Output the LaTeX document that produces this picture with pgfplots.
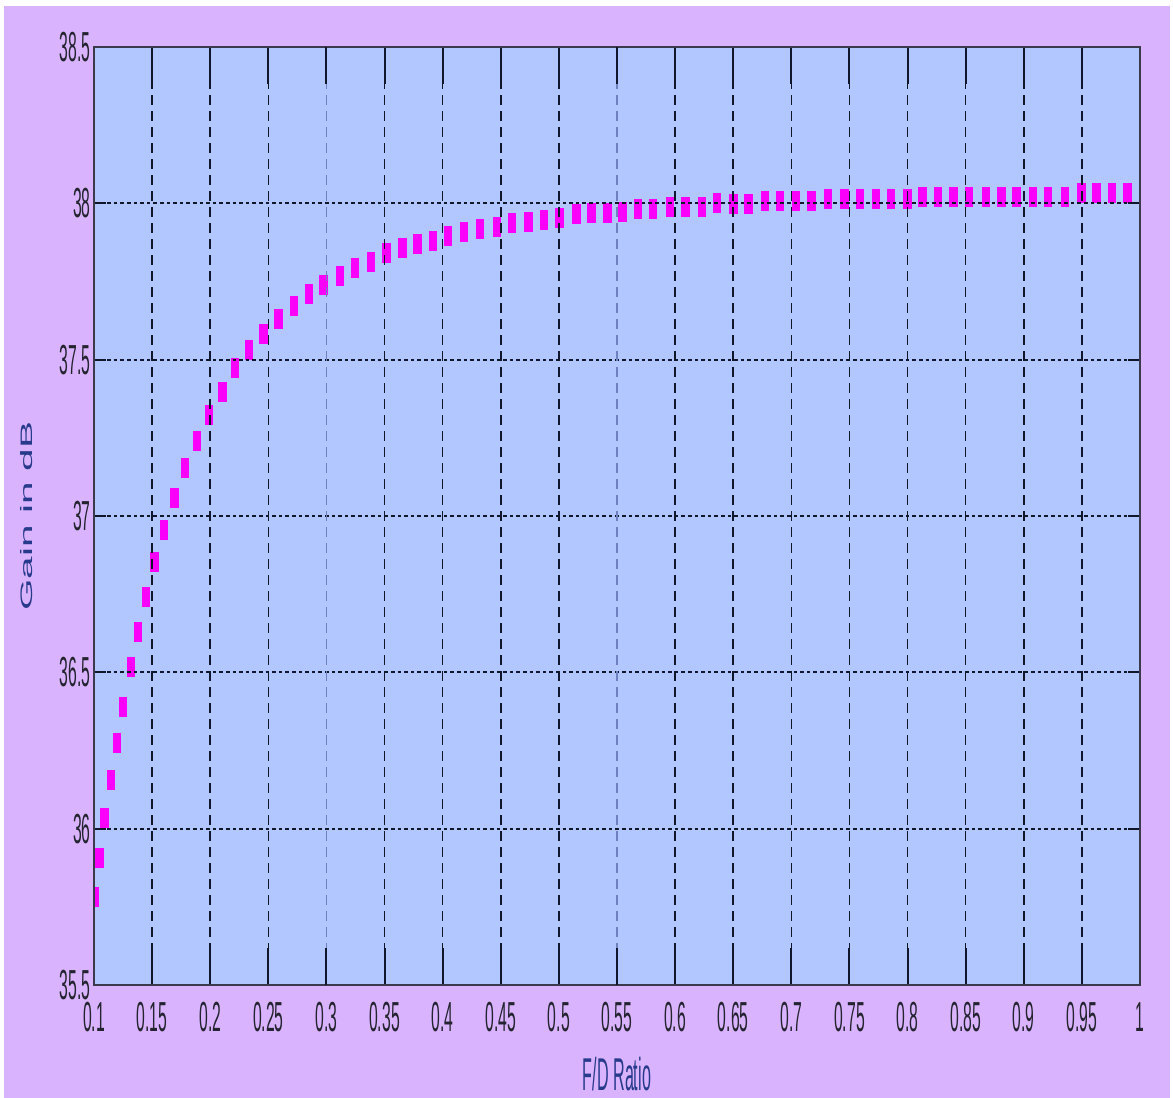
\documentclass[border=0pt]{standalone}
\usepackage{pgfplots}
\pgfplotsset{compat=1.18}
\usepackage{fontspec}
\setmainfont{Liberation Sans}
\newfontfamily\tickfont[FakeStretch=0.375]{Liberation Sans}
\newfontfamily\xlabfont[FakeStretch=0.35]{Liberation Sans}
\newfontfamily\ylabfont[FakeStretch=2.44]{Liberation Sans}

\definecolor{figbg}{RGB}{218,179,255}
\definecolor{axbg}{RGB}{178,198,255}
\definecolor{axline}{RGB}{58,58,76}
\definecolor{gridc}{RGB}{16,22,44}
\definecolor{gridfaint}{RGB}{110,128,190}
\definecolor{ticktext}{RGB}{36,36,48}
\definecolor{labtext}{RGB}{40,58,140}
\definecolor{curve}{RGB}{250,0,250}

% gain (dB) versus focal-length-to-diameter ratio
\pgfplotstableread{
fd      gain
0.1009  35.782
0.1046  35.907
0.1089  36.034
0.1146  36.156
0.1200  36.275
0.1252  36.390
0.1316  36.516
0.1381  36.630
0.1447  36.740
0.1522  36.854
0.1602  36.955
0.1691  37.057
0.1783  37.153
0.1884  37.241
0.1989  37.323
0.2104  37.398
0.2213  37.473
0.2336  37.531
0.2457  37.582
0.2589  37.629
0.2723  37.672
0.2850  37.710
0.2973  37.739
0.3117  37.768
0.3246  37.792
0.3381  37.813
0.3518  37.842
0.3653  37.856
0.3785  37.870
0.3919  37.880
0.4048  37.896
0.4186  37.907
0.4321  37.917
0.4465  37.925
0.4599  37.938
0.4737  37.939
0.4874  37.947
0.5004  37.952
0.5153  37.965
0.5282  37.968
0.5417  37.970
0.5549  37.971
0.5683  37.981
0.5812  37.981
0.5956  37.989
0.6091  37.989
0.6229  37.989
0.6358  38.000
0.6501  37.998
0.6630  37.998
0.6773  38.008
0.6903  38.008
0.7038  38.008
0.7175  38.008
0.7318  38.013
0.7456  38.013
0.7591  38.013
0.7726  38.013
0.7858  38.013
0.7998  38.013
0.8130  38.021
0.8264  38.021
0.8394  38.021
0.8531  38.021
0.8675  38.021
0.8810  38.021
0.8939  38.021
0.9077  38.021
0.9208  38.021
0.9355  38.021
0.9498  38.032
0.9627  38.032
0.9759  38.032
0.9894  38.032
}\gaindata

\begin{document}
\begin{tikzpicture}
% figure canvas
\useasboundingbox (-47pt,-56.5pt) rectangle (539.5pt,492.5pt);
\fill[white] (-47pt,-56.5pt) rectangle (539.5pt,492.5pt);
\fill[figbg] (-45pt,-56.5pt) rectangle (538pt,489.5pt);
\begin{axis}[
  at={(0,0)}, anchor=south west,
  scale only axis, width=523pt, height=469pt,
  xmin=0.1, xmax=1, ymin=35.5, ymax=38.5,
  xtick={0.1,0.15,0.2,0.25,0.35,0.4,0.45,0.5,0.6,0.65,0.7,0.75,0.8,0.85,0.9,0.95,1},
  xticklabels={0.1,0.15,0.2,0.25,0.35,0.4,0.45,0.5,0.6,0.65,0.7,0.75,0.8,0.85,0.9,0.95,1},
  extra x ticks={0.3,0.55},
  extra x tick labels={0.3,0.55},
  extra x tick style={
    major x grid style={/tikz/draw=gridfaint, /tikz/line width=0.7pt,
      /tikz/dash pattern=on 5pt off 3pt}},
  ytick={35.5,36,36.5,37,37.5,38,38.5},
  yticklabels={35.5,36,36.5,37,37.5,38,38.5},
  tick align=inside,
  major tick length=6pt,
  xtick style={/pgfplots/major tick length=18.5pt},
  tick style={draw=gridc, line width=1pt},
  axis background/.style={fill=axbg},
  axis line style={draw=axline, line width=1.3pt},
  axis on top,
  xmajorgrids, ymajorgrids,
  x grid style={draw=gridc, line width=0.8pt, dash pattern=on 5pt off 3pt},
  y grid style={draw=gridc, line width=0.9pt, dash pattern=on 1.8pt off 1.5pt},
  tick label style={text=ticktext, font=\tickfont\fontsize{21}{21}\selectfont},
  yticklabel style={inner xsep=1.5pt},
  xticklabel style={inner ysep=8.5pt},
  xlabel={F/D Ratio},
  ylabel={Gain in dB},
  every axis x label/.style={at={(axis description cs:0.5,0)}, anchor=north,
    yshift=-36pt, inner sep=0pt, text=labtext,
    font=\xlabfont\fontsize{23}{23}\selectfont},
  every axis y label/.style={at={(axis description cs:0,0.5)}, rotate=90,
    anchor=center, yshift=33.75pt, inner sep=0pt, text=labtext,
    font=\ylabfont\fontsize{8.3}{8.3}\selectfont},
  clip marker paths=true,
]
\addplot[only marks, mark=|, mark size=5pt,
  mark options={draw=curve, line width=4.2pt}] table[x=fd, y=gain] {\gaindata};
\end{axis}
\end{tikzpicture}
\end{document}
